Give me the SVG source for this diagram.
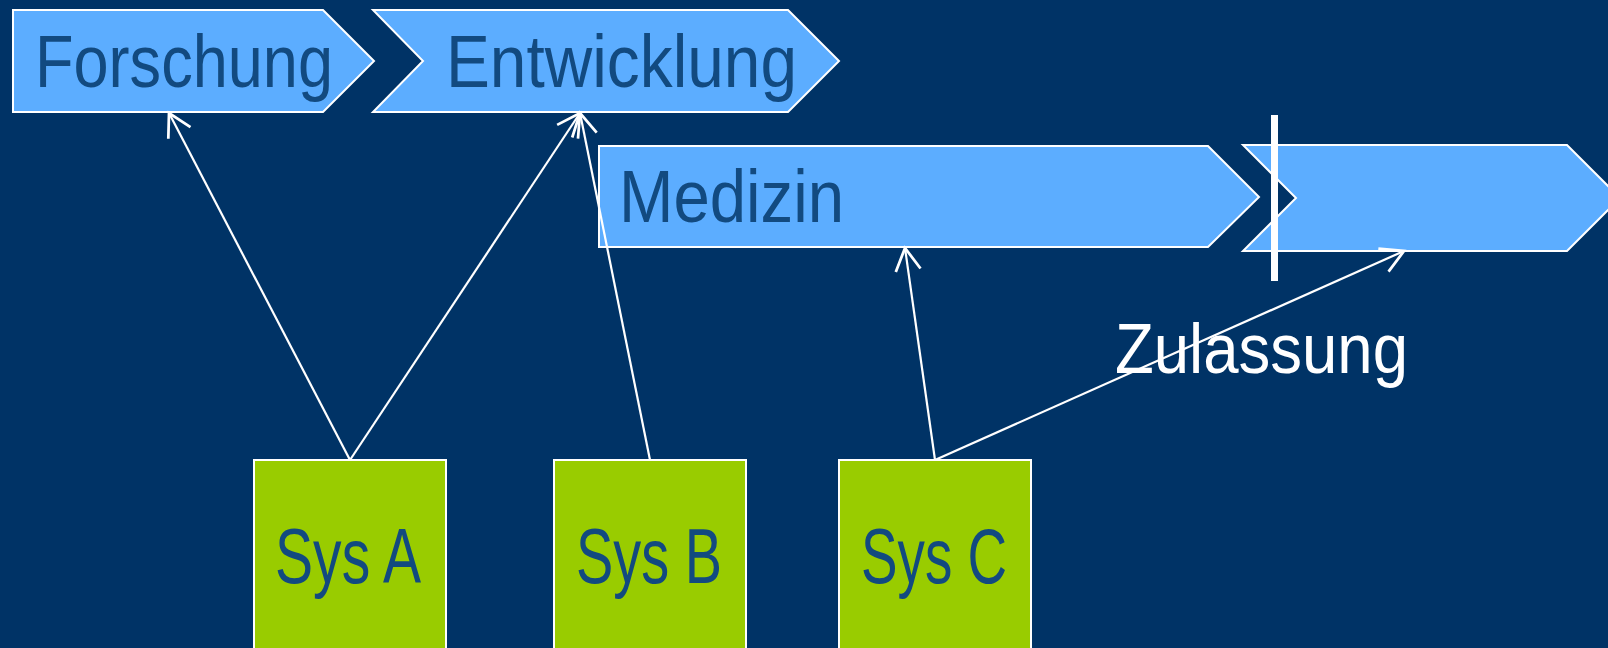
<svg xmlns="http://www.w3.org/2000/svg" width="1608" height="648" viewBox="0 0 1608 648">
  <style>
    .phase { fill: #5CADFF; stroke: #FFFFFF; stroke-width: 2; }
    .sys { fill: #99CC00; stroke: #FFFFFF; stroke-width: 2; }
    .lbl { font-family: "Liberation Sans", Arial, sans-serif; fill: #124A80; }
    .link { fill: none; stroke: #FFFFFF; stroke-width: 2.2; marker-end: url(#open); }
  </style>
  <defs>
    <marker id="open" markerUnits="userSpaceOnUse" markerWidth="30" markerHeight="30" viewBox="-20 -12 22 24" refX="0" refY="0" orient="auto" overflow="visible">
      <path d="M -18,-10 L 0,0 L -18,10" fill="none" stroke="#FFFFFF" stroke-width="2.2"/>
    </marker>
  </defs>

  <rect width="1608" height="648" fill="#003366"/>

  <g id="forschung">
    <polygon class="phase" points="13,10 323,10 374,61 323,112 13,112"/>
    <text class="lbl" x="35" y="87" font-size="75" textLength="298" lengthAdjust="spacingAndGlyphs">Forschung</text>
  </g>

  <g id="entwicklung">
    <polygon class="phase" points="373,10 788,10 839,61 788,112 373,112 423,61"/>
    <text class="lbl" x="446" y="87" font-size="75" textLength="351" lengthAdjust="spacingAndGlyphs">Entwicklung</text>
  </g>

  <g id="medizin">
    <polygon class="phase" points="599,146 1208,146 1259,197 1208,247 599,247"/>
    <text class="lbl" x="619" y="222" font-size="75" textLength="225" lengthAdjust="spacingAndGlyphs">Medizin</text>
  </g>

  <g id="zulassung-phase">
    <polygon class="phase" points="1243,145 1567,145 1620,198 1567,251 1243,251 1296,198"/>
  </g>

  <g id="sys-a">
    <rect class="sys" x="254" y="460" width="192" height="200"/>
    <text class="lbl" x="275" y="583" font-size="77" textLength="146" lengthAdjust="spacingAndGlyphs">Sys A</text>
  </g>

  <g id="sys-b">
    <rect class="sys" x="554" y="460" width="192" height="200"/>
    <text class="lbl" x="576" y="583" font-size="77" textLength="146" lengthAdjust="spacingAndGlyphs">Sys B</text>
  </g>

  <g id="sys-c">
    <rect class="sys" x="839" y="460" width="192" height="200"/>
    <text class="lbl" x="861" y="583" font-size="77" textLength="146" lengthAdjust="spacingAndGlyphs">Sys C</text>
  </g>

  <text id="zulassung-label" x="1115" y="373" font-family="Liberation Sans, Arial, sans-serif" font-size="71" fill="#FFFFFF" textLength="293" lengthAdjust="spacingAndGlyphs">Zulassung</text>

  <g id="connectors">
    <line class="link" x1="350" y1="460" x2="169" y2="113"/>
    <line class="link" x1="350" y1="460" x2="580" y2="113"/>
    <line class="link" x1="650" y1="460" x2="580" y2="113"/>
    <line class="link" x1="935" y1="460" x2="905" y2="248"/>
    <line class="link" x1="935" y1="460" x2="1404" y2="251"/>
    <rect id="milestone" x="1271" y="115" width="7" height="166" fill="#FFFFFF"/>
  </g>
</svg>
